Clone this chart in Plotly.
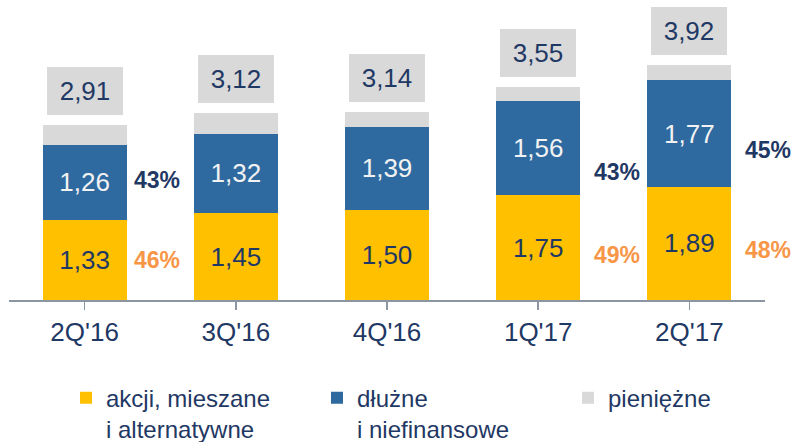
import plotly.graph_objects as go

categories = ["2Q'16", "3Q'16", "4Q'16", "1Q'17", "2Q'17"]
equity = [1.33, 1.45, 1.50, 1.75, 1.89]
debt = [1.26, 1.32, 1.39, 1.56, 1.77]
total = [2.91, 3.12, 3.14, 3.55, 3.92]
money = [round(t - e - d, 2) for t, e, d in zip(total, equity, debt)]

series_names = ["akcji, mieszane<br>i alternatywne", "dłużne<br>i niefinansowe", "pieniężne"]

# share labels: (category index, label, series)
share_cat = [0, 0, 3, 3, 4, 4]
share_text = ["43%", "46%", "43%", "49%", "45%", "48%"]
share_series = ["debt", "equity", "debt", "equity", "debt", "equity"]
# label placement (layout only)
share_y = [2.0, 0.67, 2.13, 0.75, 2.5, 0.83]
share_dx = [72, 72, 79, 79, 79, 79]

NAVY = "#1F3864"
YELLOW = "#FFC000"
BLUE = "#2E6AA0"
GREY = "#D9D9D9"
ORANGE = "#F79646"
FONT = "Liberation Sans, Arial, sans-serif"

def fmt(v):
    return f"{v:.2f}".replace(".", ",")

x = list(range(len(categories)))

fig = go.Figure()
fig.add_trace(go.Bar(x=x, y=equity, name=series_names[0], marker=dict(color=YELLOW, line=dict(width=0)),
                     text=[fmt(v) for v in equity], textposition="inside", insidetextanchor="middle",
                     textangle=0, textfont=dict(size=26, color=NAVY, family=FONT), constraintext="none",
                     hoverinfo="skip"))
fig.add_trace(go.Bar(x=x, y=debt, name=series_names[1], marker=dict(color=BLUE, line=dict(width=0)),
                     text=[fmt(v) for v in debt], textposition="inside", insidetextanchor="middle",
                     textangle=0, textfont=dict(size=26, color="#F2F2F2", family=FONT), constraintext="none",
                     hoverinfo="skip"))
fig.add_trace(go.Bar(x=x, y=money, name=series_names[2], marker=dict(color=GREY, line=dict(width=0)),
                     hoverinfo="skip"))

annotations = []
for i, t in enumerate(total):
    annotations.append(dict(x=i, y=t, xref="x", yref="y", text=fmt(t), showarrow=False,
                            xanchor="center", yanchor="bottom", yshift=10,
                            width=76, height=48, bgcolor=GREY, borderpad=0, borderwidth=0,
                            font=dict(size=26, color=NAVY, family=FONT)))
for c, txt, s, yy, dx in zip(share_cat, share_text, share_series, share_y, share_dx):
    annotations.append(dict(x=c, y=yy, xref="x", yref="y", text=f"<b>{txt}</b>", showarrow=False,
                            xanchor="center", yanchor="middle", xshift=dx,
                            font=dict(size=23, color=NAVY if s == "debt" else ORANGE, family=FONT)))

fig.update_layout(
    width=797, height=442,
    margin=dict(l=9, r=32, t=0, b=142, autoexpand=False),
    barmode="stack", bargap=0.444,
    plot_bgcolor="white", paper_bgcolor="white",
    font=dict(family=FONT, color=NAVY),
    xaxis=dict(range=[-0.5, 4.5], tickvals=x, ticktext=categories, tickson="boundaries",
               ticks="outside", ticklen=8, tickwidth=1.5, tickcolor="#8C96A3",
               showline=True, linecolor="#8C96A3", linewidth=1.5, showgrid=False, zeroline=False,
               tickfont=dict(size=26, color=NAVY, family=FONT), fixedrange=True),
    yaxis=dict(range=[0, 5.0], visible=False, showgrid=False, zeroline=False, fixedrange=True),
    legend=dict(orientation="h", x=0.0754, xanchor="left", y=-0.252, yanchor="top",
                valign="top", entrywidth=206, entrywidthmode="pixels",
                font=dict(size=24, color=NAVY, family=FONT), traceorder="normal",
                bgcolor="rgba(0,0,0,0)"),
    annotations=annotations,
    showlegend=True,
)

fig.write_html("out.html", config={"displayModeBar": False, "staticPlot": True},
               post_script="document.body.style.margin='0px';document.body.style.overflow='hidden';")
